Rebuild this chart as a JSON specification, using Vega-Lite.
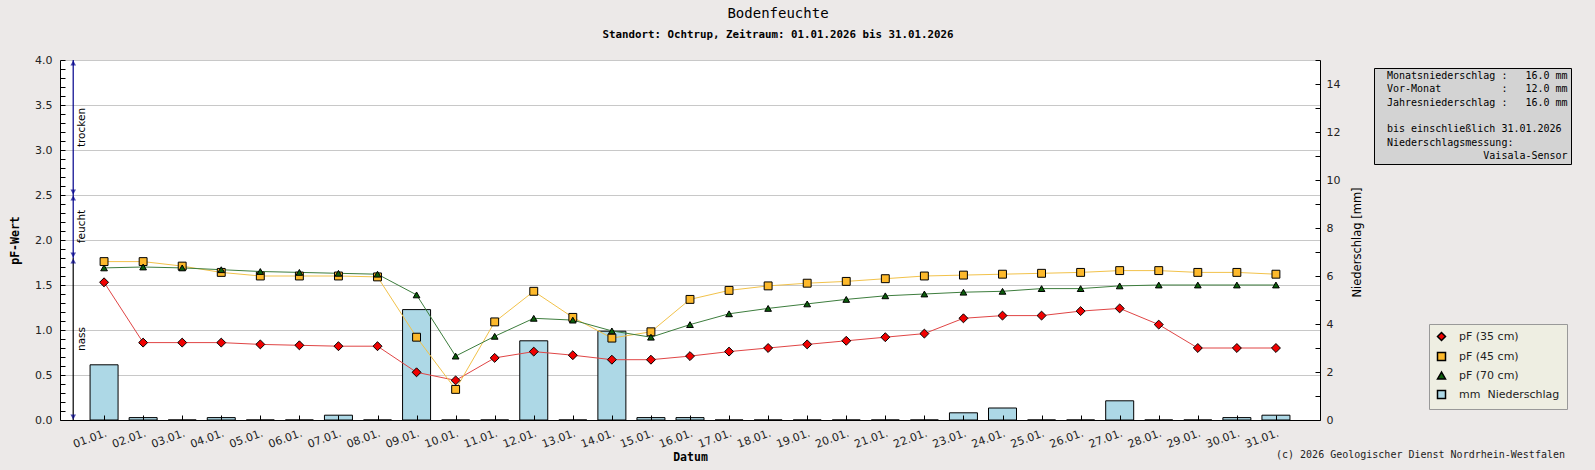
{
  "$schema": "https://vega.github.io/schema/vega-lite/v6.json",
  "width": 1260,
  "height": 360,
  "autosize": {"type": "none"},
  "padding": {"left": 60, "top": 60, "right": 275, "bottom": 50},
  "background": "#ECE9E8",
  "title": {
    "text": "Bodenfeuchte",
    "subtitle": "Standort: Ochtrup, Zeitraum: 01.01.2026 bis 31.01.2026",
    "font": "DejaVu Sans Mono",
    "fontSize": 14,
    "fontWeight": "normal",
    "color": "black",
    "subtitleFont": "DejaVu Sans Mono",
    "subtitleFontSize": 10.8,
    "subtitleFontWeight": "bold",
    "subtitleColor": "black",
    "subtitlePadding": 8,
    "anchor": "middle",
    "frame": "group",
    "dx": 88,
    "offset": 14
  },
  "datasets": {
    "niederschlag": [
      {"Tag": 1, "mm": 2.3}, {"Tag": 2, "mm": 0.1}, {"Tag": 3, "mm": 0}, {"Tag": 4, "mm": 0.1},
      {"Tag": 5, "mm": 0}, {"Tag": 6, "mm": 0}, {"Tag": 7, "mm": 0.2}, {"Tag": 8, "mm": 0},
      {"Tag": 9, "mm": 4.6}, {"Tag": 10, "mm": 0}, {"Tag": 11, "mm": 0}, {"Tag": 12, "mm": 3.3},
      {"Tag": 13, "mm": 0}, {"Tag": 14, "mm": 3.7}, {"Tag": 15, "mm": 0.1}, {"Tag": 16, "mm": 0.1},
      {"Tag": 17, "mm": 0}, {"Tag": 18, "mm": 0}, {"Tag": 19, "mm": 0}, {"Tag": 20, "mm": 0},
      {"Tag": 21, "mm": 0}, {"Tag": 22, "mm": 0}, {"Tag": 23, "mm": 0.3}, {"Tag": 24, "mm": 0.5},
      {"Tag": 25, "mm": 0}, {"Tag": 26, "mm": 0}, {"Tag": 27, "mm": 0.8}, {"Tag": 28, "mm": 0},
      {"Tag": 29, "mm": 0}, {"Tag": 30, "mm": 0.1}, {"Tag": 31, "mm": 0.2}
    ],
    "pf": [
      {"Tag": 1, "Tiefe": "pF (35 cm)", "pF": 1.53}, {"Tag": 2, "Tiefe": "pF (35 cm)", "pF": 0.86},
      {"Tag": 3, "Tiefe": "pF (35 cm)", "pF": 0.86}, {"Tag": 4, "Tiefe": "pF (35 cm)", "pF": 0.86},
      {"Tag": 5, "Tiefe": "pF (35 cm)", "pF": 0.84}, {"Tag": 6, "Tiefe": "pF (35 cm)", "pF": 0.83},
      {"Tag": 7, "Tiefe": "pF (35 cm)", "pF": 0.82}, {"Tag": 8, "Tiefe": "pF (35 cm)", "pF": 0.82},
      {"Tag": 9, "Tiefe": "pF (35 cm)", "pF": 0.53}, {"Tag": 10, "Tiefe": "pF (35 cm)", "pF": 0.44},
      {"Tag": 11, "Tiefe": "pF (35 cm)", "pF": 0.69}, {"Tag": 12, "Tiefe": "pF (35 cm)", "pF": 0.76},
      {"Tag": 13, "Tiefe": "pF (35 cm)", "pF": 0.72}, {"Tag": 14, "Tiefe": "pF (35 cm)", "pF": 0.67},
      {"Tag": 15, "Tiefe": "pF (35 cm)", "pF": 0.67}, {"Tag": 16, "Tiefe": "pF (35 cm)", "pF": 0.71},
      {"Tag": 17, "Tiefe": "pF (35 cm)", "pF": 0.76}, {"Tag": 18, "Tiefe": "pF (35 cm)", "pF": 0.8},
      {"Tag": 19, "Tiefe": "pF (35 cm)", "pF": 0.84}, {"Tag": 20, "Tiefe": "pF (35 cm)", "pF": 0.88},
      {"Tag": 21, "Tiefe": "pF (35 cm)", "pF": 0.92}, {"Tag": 22, "Tiefe": "pF (35 cm)", "pF": 0.96},
      {"Tag": 23, "Tiefe": "pF (35 cm)", "pF": 1.13}, {"Tag": 24, "Tiefe": "pF (35 cm)", "pF": 1.16},
      {"Tag": 25, "Tiefe": "pF (35 cm)", "pF": 1.16}, {"Tag": 26, "Tiefe": "pF (35 cm)", "pF": 1.21},
      {"Tag": 27, "Tiefe": "pF (35 cm)", "pF": 1.24}, {"Tag": 28, "Tiefe": "pF (35 cm)", "pF": 1.06},
      {"Tag": 29, "Tiefe": "pF (35 cm)", "pF": 0.8}, {"Tag": 30, "Tiefe": "pF (35 cm)", "pF": 0.8},
      {"Tag": 31, "Tiefe": "pF (35 cm)", "pF": 0.8},
      {"Tag": 1, "Tiefe": "pF (45 cm)", "pF": 1.76}, {"Tag": 2, "Tiefe": "pF (45 cm)", "pF": 1.76},
      {"Tag": 3, "Tiefe": "pF (45 cm)", "pF": 1.71}, {"Tag": 4, "Tiefe": "pF (45 cm)", "pF": 1.64},
      {"Tag": 5, "Tiefe": "pF (45 cm)", "pF": 1.6}, {"Tag": 6, "Tiefe": "pF (45 cm)", "pF": 1.6},
      {"Tag": 7, "Tiefe": "pF (45 cm)", "pF": 1.6}, {"Tag": 8, "Tiefe": "pF (45 cm)", "pF": 1.59},
      {"Tag": 9, "Tiefe": "pF (45 cm)", "pF": 0.92}, {"Tag": 10, "Tiefe": "pF (45 cm)", "pF": 0.34},
      {"Tag": 11, "Tiefe": "pF (45 cm)", "pF": 1.09}, {"Tag": 12, "Tiefe": "pF (45 cm)", "pF": 1.43},
      {"Tag": 13, "Tiefe": "pF (45 cm)", "pF": 1.14}, {"Tag": 14, "Tiefe": "pF (45 cm)", "pF": 0.91},
      {"Tag": 15, "Tiefe": "pF (45 cm)", "pF": 0.98}, {"Tag": 16, "Tiefe": "pF (45 cm)", "pF": 1.34},
      {"Tag": 17, "Tiefe": "pF (45 cm)", "pF": 1.44}, {"Tag": 18, "Tiefe": "pF (45 cm)", "pF": 1.49},
      {"Tag": 19, "Tiefe": "pF (45 cm)", "pF": 1.52}, {"Tag": 20, "Tiefe": "pF (45 cm)", "pF": 1.54},
      {"Tag": 21, "Tiefe": "pF (45 cm)", "pF": 1.57}, {"Tag": 22, "Tiefe": "pF (45 cm)", "pF": 1.6},
      {"Tag": 23, "Tiefe": "pF (45 cm)", "pF": 1.61}, {"Tag": 24, "Tiefe": "pF (45 cm)", "pF": 1.62},
      {"Tag": 25, "Tiefe": "pF (45 cm)", "pF": 1.63}, {"Tag": 26, "Tiefe": "pF (45 cm)", "pF": 1.64},
      {"Tag": 27, "Tiefe": "pF (45 cm)", "pF": 1.66}, {"Tag": 28, "Tiefe": "pF (45 cm)", "pF": 1.66},
      {"Tag": 29, "Tiefe": "pF (45 cm)", "pF": 1.64}, {"Tag": 30, "Tiefe": "pF (45 cm)", "pF": 1.64},
      {"Tag": 31, "Tiefe": "pF (45 cm)", "pF": 1.62},
      {"Tag": 1, "Tiefe": "pF (70 cm)", "pF": 1.69}, {"Tag": 2, "Tiefe": "pF (70 cm)", "pF": 1.7},
      {"Tag": 3, "Tiefe": "pF (70 cm)", "pF": 1.69}, {"Tag": 4, "Tiefe": "pF (70 cm)", "pF": 1.67},
      {"Tag": 5, "Tiefe": "pF (70 cm)", "pF": 1.65}, {"Tag": 6, "Tiefe": "pF (70 cm)", "pF": 1.64},
      {"Tag": 7, "Tiefe": "pF (70 cm)", "pF": 1.63}, {"Tag": 8, "Tiefe": "pF (70 cm)", "pF": 1.62},
      {"Tag": 9, "Tiefe": "pF (70 cm)", "pF": 1.39}, {"Tag": 10, "Tiefe": "pF (70 cm)", "pF": 0.71},
      {"Tag": 11, "Tiefe": "pF (70 cm)", "pF": 0.93}, {"Tag": 12, "Tiefe": "pF (70 cm)", "pF": 1.13},
      {"Tag": 13, "Tiefe": "pF (70 cm)", "pF": 1.11}, {"Tag": 14, "Tiefe": "pF (70 cm)", "pF": 0.99},
      {"Tag": 15, "Tiefe": "pF (70 cm)", "pF": 0.92}, {"Tag": 16, "Tiefe": "pF (70 cm)", "pF": 1.06},
      {"Tag": 17, "Tiefe": "pF (70 cm)", "pF": 1.18}, {"Tag": 18, "Tiefe": "pF (70 cm)", "pF": 1.24},
      {"Tag": 19, "Tiefe": "pF (70 cm)", "pF": 1.29}, {"Tag": 20, "Tiefe": "pF (70 cm)", "pF": 1.34},
      {"Tag": 21, "Tiefe": "pF (70 cm)", "pF": 1.38}, {"Tag": 22, "Tiefe": "pF (70 cm)", "pF": 1.4},
      {"Tag": 23, "Tiefe": "pF (70 cm)", "pF": 1.42}, {"Tag": 24, "Tiefe": "pF (70 cm)", "pF": 1.43},
      {"Tag": 25, "Tiefe": "pF (70 cm)", "pF": 1.46}, {"Tag": 26, "Tiefe": "pF (70 cm)", "pF": 1.46},
      {"Tag": 27, "Tiefe": "pF (70 cm)", "pF": 1.49}, {"Tag": 28, "Tiefe": "pF (70 cm)", "pF": 1.5},
      {"Tag": 29, "Tiefe": "pF (70 cm)", "pF": 1.5}, {"Tag": 30, "Tiefe": "pF (70 cm)", "pF": 1.5},
      {"Tag": 31, "Tiefe": "pF (70 cm)", "pF": 1.5}
    ],
    "bereiche": [
      {"Bereich": "trocken", "von": 2.5, "bis": 4.0},
      {"Bereich": "feucht", "von": 1.8, "bis": 2.5},
      {"Bereich": "nass", "von": 0, "bis": 1.8}
    ],
    "info": [
      {"Zeile": "Monatsniederschlag\u00a0:\u00a0\u00a0\u00a016.0\u00a0mm"},
      {"Zeile": "Vor-Monat\u00a0\u00a0\u00a0\u00a0\u00a0\u00a0\u00a0\u00a0\u00a0\u00a0:\u00a0\u00a0\u00a012.0\u00a0mm"},
      {"Zeile": "Jahresniederschlag\u00a0:\u00a0\u00a0\u00a016.0\u00a0mm"},
      {"Zeile": "\u200b\u00a0"},
      {"Zeile": "bis einschließlich 31.01.2026"},
      {"Zeile": "Niederschlagsmessung:"},
      {"Zeile": "\u200b\u00a0\u00a0\u00a0\u00a0\u00a0\u00a0\u00a0\u00a0\u00a0\u00a0\u00a0\u00a0\u00a0\u00a0\u00a0\u00a0Vaisala-Sensor"}
    ],
    "quelle": [
      {"Quelle": "(c) 2026 Geologischer Dienst Nordrhein-Westfalen"}
    ]
  },
  "layer": [
    {
      "data": {"name": "niederschlag"},
      "mark": {"type": "bar", "width": 28, "fill": "#ADD8E6", "stroke": "black", "strokeWidth": 1},
      "encoding": {
        "x": {
          "field": "Tag",
          "type": "quantitative",
          "title": "Datum",
          "scale": {"domain": [0, 32], "nice": false, "zero": false},
          "axis": {
            "values": [1, 2, 3, 4, 5, 6, 7, 8, 9, 10, 11, 12, 13, 14, 15, 16, 17, 18, 19, 20, 21, 22, 23, 24, 25, 26, 27, 28, 29, 30, 31],
            "labelExpr": "(datum.value < 10 ? '0' : '') + datum.value + '.01.'",
            "labelAngle": -20,
            "labelAlign": "right",
            "labelBaseline": "top",
            "labelPadding": 12,
            "labelOverlap": false,
            "labelFlush": false,
            "grid": false,
            "zindex": 1,
            "titleFont": "DejaVu Sans Mono",
            "titleFontWeight": "bold",
            "titleFontSize": 11.5,
            "titleBaseline": "middle",
            "titleY": 37
          }
        },
        "y": {
          "field": "mm",
          "type": "quantitative",
          "title": "Niederschlag [mm]",
          "scale": {"domain": [0, 15], "nice": false},
          "axis": {
            "orient": "right",
            "values": [0, 1, 2, 3, 4, 5, 6, 7, 8, 9, 10, 11, 12, 13, 14, 15],
            "labelExpr": "datum.value % 2 === 0 ? datum.label : ''",
            "labelPadding": 11,
            "grid": false,
            "titleFont": "DejaVu Sans",
            "titleFontWeight": "normal",
            "titleFontSize": 11.5,
            "titleAngle": 270,
            "titleBaseline": "middle",
            "titleX": 37,
            "titleY": 182
          }
        }
      }
    },
    {
      "encoding": {
        "y": {
          "type": "quantitative",
          "title": "pF-Wert",
          "scale": {"domain": [0, 4], "nice": false},
          "axis": {
            "orient": "left",
            "values": [0, 0.1, 0.2, 0.3, 0.4, 0.5, 0.6, 0.7, 0.8, 0.9, 1, 1.1, 1.2, 1.3, 1.4, 1.5, 1.6, 1.7, 1.8, 1.9, 2, 2.1, 2.2, 2.3, 2.4, 2.5, 2.6, 2.7, 2.8, 2.9, 3, 3.1, 3.2, 3.3, 3.4, 3.5, 3.6, 3.7, 3.8, 3.9, 4],
            "labelExpr": "abs(datum.value * 2 - round(datum.value * 2)) < 0.001 ? format(datum.value, '.1f') : ''",
            "labelPadding": 13,
            "labelOverlap": false,
            "grid": true,
            "gridColor": "#C8C8C8",
            "gridOpacity": {"condition": {"test": "abs(datum.value * 2 - round(datum.value * 2)) < 0.001", "value": 1}, "value": 0},
            "titleFont": "DejaVu Sans Mono",
            "titleFontWeight": "bold",
            "titleFontSize": 11.5,
            "titleAngle": 270,
            "titleBaseline": "middle",
            "titleX": -45,
            "titleY": 180
          }
        }
      },
      "layer": [
        {
          "data": {"name": "pf"},
          "mark": {"type": "line", "strokeWidth": 1},
          "encoding": {
            "x": {"field": "Tag", "type": "quantitative", "title": "Datum"},
            "y": {"field": "pF"},
            "stroke": {
              "field": "Tiefe",
              "type": "nominal",
              "scale": {"domain": ["pF (35 cm)", "pF (45 cm)", "pF (70 cm)"], "range": ["#E04545", "#F2C24A", "#3D7D3D"]},
              "legend": null
            }
          }
        },
        {
          "data": {"name": "pf"},
          "mark": {"type": "point", "filled": true, "stroke": "black", "strokeWidth": 1, "opacity": 1},
          "encoding": {
            "x": {"field": "Tag", "type": "quantitative", "title": "Datum"},
            "y": {"field": "pF"},
            "fill": {
              "field": "Tiefe",
              "type": "nominal",
              "scale": {
                "domain": ["pF (35 cm)", "pF (45 cm)", "pF (70 cm)", "mm\u00a0\u00a0Niederschlag"],
                "range": ["#F00000", "#FDB92B", "#0B5E0B", "#ADD8E6"]
              },
              "legend": {
                "title": null,
                "orient": "none",
                "legendX": 1369,
                "legendY": 264,
                "symbolSize": 64,
                "encode": {"symbols": {"update": {"stroke": {"value": "black"}, "strokeWidth": {"value": 1}}}}
              }
            },
            "shape": {
              "field": "Tiefe",
              "type": "nominal",
              "scale": {
                "domain": ["pF (35 cm)", "pF (45 cm)", "pF (70 cm)", "mm\u00a0\u00a0Niederschlag"],
                "range": ["diamond", "square", "triangle-up", "square"]
              },
              "legend": {
                "title": null,
                "orient": "none",
                "legendX": 1369,
                "legendY": 264,
                "symbolSize": 64,
                "encode": {"symbols": {"update": {"stroke": {"value": "black"}, "strokeWidth": {"value": 1}}}}
              }
            },
            "size": {
              "field": "Tiefe",
              "type": "nominal",
              "scale": {"domain": ["pF (35 cm)", "pF (45 cm)", "pF (70 cm)"], "range": [80, 45, 55]},
              "legend": null
            }
          }
        },
        {
          "data": {"name": "bereiche"},
          "mark": {"type": "rule", "strokeWidth": 1.2},
          "encoding": {
            "x": {"datum": 0.21, "type": "quantitative"},
            "y": {"field": "bis"},
            "y2": {"field": "von"},
            "color": {"condition": {"test": "datum.Bereich === 'nass'", "value": "black"}, "value": "#00008B"}
          }
        },
        {
          "data": {"name": "bereiche"},
          "mark": {"type": "point", "shape": "triangle-up", "filled": true, "color": "#00008B", "size": 32, "yOffset": 3},
          "encoding": {
            "x": {"datum": 0.21, "type": "quantitative"},
            "y": {"field": "bis"}
          }
        },
        {
          "data": {"name": "bereiche"},
          "mark": {"type": "point", "shape": "triangle-down", "filled": true, "color": "#00008B", "size": 32, "yOffset": -3},
          "encoding": {
            "x": {"datum": 0.21, "type": "quantitative"},
            "y": {"field": "von"}
          }
        },
        {
          "data": {"name": "bereiche"},
          "transform": [{"calculate": "(datum.von + datum.bis) / 2", "as": "mitte"}],
          "mark": {"type": "text", "angle": 270, "align": "center", "baseline": "top", "xOffset": 4, "font": "DejaVu Sans", "fontSize": 10.5, "color": "black"},
          "encoding": {
            "x": {"datum": 0.21, "type": "quantitative"},
            "y": {"field": "mitte"},
            "text": {"field": "Bereich"}
          }
        }
      ]
    },
    {
      "data": {"name": "info"},
      "mark": {"type": "point", "opacity": 0, "size": 0},
      "encoding": {
        "x": {"datum": 16, "type": "quantitative"},
        "color": {
          "field": "Zeile",
          "type": "nominal",
          "sort": null,
          "scale": {"range": ["transparent"]},
          "legend": {
            "title": null,
            "orient": "none",
            "legendX": 1314,
            "legendY": 8,
            "labelFont": "DejaVu Sans Mono",
            "labelFontSize": 10,
            "labelColor": "black",
            "labelLimit": 400,
            "labelOffset": 0,
            "symbolSize": 0,
            "symbolOpacity": 0,
            "rowPadding": 3.3,
            "padding": 3,
            "fillColor": "#D3D3D3",
            "strokeColor": "black"
          }
        }
      }
    },
    {
      "data": {"name": "quelle"},
      "mark": {"type": "point", "opacity": 0, "size": 0},
      "encoding": {
        "x": {"datum": 16, "type": "quantitative"},
        "strokeDash": {
          "field": "Quelle",
          "type": "nominal",
          "legend": {
            "title": null,
            "orient": "none",
            "legendX": 1206,
            "legendY": 390,
            "labelFont": "DejaVu Sans Mono",
            "labelFontSize": 10,
            "labelColor": "#222",
            "labelLimit": 400,
            "labelOffset": 0,
            "symbolSize": 0,
            "symbolOpacity": 0,
            "padding": 0,
            "fillColor": "transparent",
            "strokeColor": "transparent"
          }
        }
      }
    }
  ],
  "resolve": {"scale": {"y": "independent"}},
  "config": {
    "view": {"fill": "white", "stroke": null},
    "axis": {
      "domainColor": "black",
      "tickColor": "black",
      "tickSize": -5,
      "labelFont": "DejaVu Sans",
      "labelFontSize": 11,
      "labelColor": "#222",
      "titleColor": "black"
    },
    "legend": {
      "labelFont": "DejaVu Sans",
      "labelFontSize": 11,
      "labelColor": "#222",
      "symbolSize": 0,
      "labelOffset": 12,
      "rowPadding": 5,
      "padding": 7,
      "fillColor": "#EEEEE2",
      "strokeColor": "#999999"
    }
  }
}
